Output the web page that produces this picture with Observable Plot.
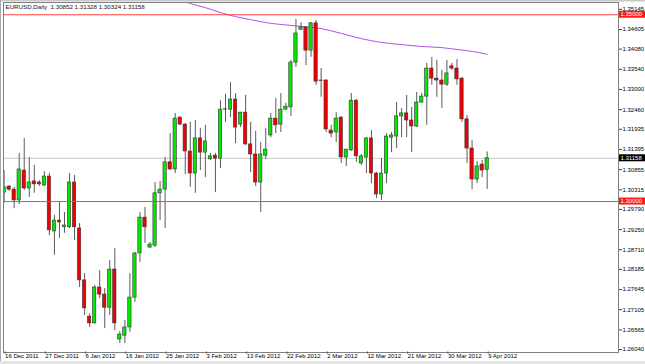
<!DOCTYPE html>
<html><head><meta charset="utf-8">
<script src="https://cdn.jsdelivr.net/npm/d3@7"></script>
<script src="https://cdn.jsdelivr.net/npm/@observablehq/plot@0.6"></script>
<style>
html,body{margin:0;padding:0;background:#fff;}
#chart svg{display:block;}
</style></head><body><div id="chart"></div>
<script>
const symbolTitle = "EURUSD,Daily  1.30852 1.31328 1.30324 1.31158";

const openP = [
1.3024,1.3040,1.3032,1.3003,1.3083,1.3035,1.3054,1.3051,1.3043,1.3067,
1.2920,1.2949,1.2931,1.2931,1.3051,1.2928,1.2789,1.2692,1.2674,1.2770,
1.2751,1.2716,1.2818,1.2631,1.2641,1.2663,1.2743,1.2861,1.2957,1.2877,
1.2882,1.3022,1.3032,1.3105,1.3086,1.3225,1.3206,1.3134,1.3075,1.3169,
1.3131,1.3113,1.3123,1.3115,1.3246,1.3246,1.3273,1.3206,1.3238,1.3153,
1.3126,1.3051,1.3123,1.3177,1.3222,1.3206,1.3246,1.3252,1.3372,1.3460,
1.3466,1.3404,1.3477,1.3324,1.3324,1.3190,1.3185,1.3225,1.3118,1.3137,
1.3270,1.3102,1.3118,1.3169,1.3075,1.3019,1.3075,1.3171,1.3174,1.3228,
1.3236,1.3217,1.3201,1.3265,1.3281,1.3356,1.3329,1.3324,1.3313,1.3362,
1.3356,1.3329,1.3220,1.3142,1.3059,1.3099,1.30852];

const highP = [
1.3083,1.3043,1.3038,1.3129,1.3169,1.3118,1.3097,1.3056,1.3080,1.3075,
1.2963,1.2997,1.2971,1.3075,1.3070,1.2941,1.2807,1.2700,1.2775,1.2815,
1.2767,1.2842,1.2874,1.2652,1.2682,1.2807,1.2864,1.2971,1.2984,1.2890,
1.3051,1.3054,1.3118,1.3182,1.3236,1.3226,1.3209,1.3212,1.3217,1.3196,
1.3204,1.3129,1.3129,1.3270,1.3287,1.3319,1.3289,1.3239,1.3284,1.3212,
1.3188,1.3158,1.3196,1.3236,1.3276,1.3289,1.3263,1.3378,1.3487,1.3479,
1.3468,1.3479,1.3485,1.3356,1.3326,1.3204,1.3238,1.3226,1.3140,1.3289,
1.3273,1.3126,1.3171,1.3190,1.3078,1.3115,1.3182,1.3185,1.3265,1.3249,
1.3284,1.3252,1.3292,1.3289,1.3370,1.3386,1.3378,1.3351,1.3378,1.3370,
1.3380,1.3332,1.3230,1.3163,1.3107,1.3110,1.31328];

const lowP = [
1.2995,1.3027,1.2981,1.2992,1.3030,1.3011,1.3022,1.3040,1.3040,1.2909,
1.2856,1.2901,1.2915,1.2928,1.2896,1.2770,1.2695,1.2663,1.2672,1.2740,
1.2660,1.2695,1.2655,1.2620,1.2620,1.2649,1.2730,1.2837,1.2888,1.2874,
1.2877,1.2949,1.2928,1.3083,1.3075,1.3204,1.3072,1.3038,1.3022,1.3083,
1.3064,1.3110,1.3024,1.3088,1.3212,1.3225,1.3155,1.3198,1.3150,1.3078,
1.3040,1.2971,1.3113,1.3171,1.3182,1.3185,1.3244,1.3228,1.3359,1.3458,
1.3364,1.3386,1.3311,1.3279,1.3185,1.3171,1.3158,1.3102,1.3094,1.3134,
1.3105,1.3097,1.3075,1.3048,1.3008,1.3003,1.3048,1.3131,1.3142,1.3171,
1.3171,1.3131,1.3198,1.3263,1.3204,1.3311,1.3279,1.3249,1.3308,1.3351,
1.3311,1.3212,1.3102,1.3032,1.3048,1.3064,1.30324];

const closeP = [
1.3038,1.3032,1.3003,1.3086,1.3035,1.3051,1.3046,1.3046,1.3067,1.2923,
1.2949,1.2944,1.2936,1.3051,1.2931,1.2789,1.2714,1.2674,1.2770,1.2751,
1.2716,1.2818,1.2674,1.2644,1.2663,1.2743,1.2861,1.2957,1.2931,1.2885,
1.3022,1.3032,1.3105,1.3086,1.3222,1.3206,1.3134,1.3075,1.3169,1.3131,
1.3161,1.3121,1.3115,1.3246,1.3247,1.3273,1.3198,1.3238,1.3153,1.3126,
1.3051,1.3126,1.3139,1.3222,1.3204,1.3246,1.3254,1.3372,1.3450,1.3466,
1.3404,1.3477,1.3321,1.3323,1.3193,1.3182,1.3222,1.3118,1.3139,1.3270,
1.3121,1.3121,1.3169,1.3075,1.3019,1.3075,1.3174,1.3177,1.3228,1.3236,
1.3217,1.3201,1.3265,1.3281,1.3356,1.3329,1.3324,1.3313,1.3343,1.3356,
1.3327,1.3220,1.3142,1.3059,1.3094,1.3083,1.31158];

const dateTickBars = [0,8,16,24,32,40,48,56,64,72,80,88,96];
const dateTickLabels = ["16 Dec 2011","27 Dec 2011","6 Jan 2012","16 Jan 2012","25 Jan 2012","3 Feb 2012","13 Feb 2012","22 Feb 2012","2 Mar 2012","12 Mar 2012","21 Mar 2012","30 Mar 2012","9 Apr 2012"];

const priceTicks = [1.35145,1.34605,1.34080,1.33540,1.33000,1.32460,1.31935,1.31395,1.30855,1.30315,1.29790,1.29250,1.28710,1.28185,1.27645,1.27105,1.26565,1.26040];

const redLevels = [1.35000, 1.30000];
const bidPrice = 1.31158;

const maBars   = [35,37,40,43,46,49,52,55,59,63,67,71,75,79,83,87,90,93,96];
const maValues = [1.3540,1.3530,1.3519,1.3506,1.3495,1.3487,1.3479,1.3474,1.3469,1.3463,1.3450,1.3436,1.3426,1.3420,1.3415,1.3412,1.3407,1.3402,1.3394];

const bars = openP.map((o,i)=>({i, open:o, high:highP[i], low:lowP[i], close:closeP[i]}));
const ma = maBars.map((b,k)=>({i:b, v:maValues[k]}));

const W = 645, H = 364, MR = 27;
const chart = Plot.plot({
  width: W, height: H, marginTop: 2, marginLeft: 3, marginRight: MR, marginBottom: 12,
  style: {fontFamily: "'Liberation Sans', Arial, sans-serif", fontSize: "6px", background: "#fff", color: "#000", overflow: "visible"},
  x: {type: "linear", domain: [-0.12, 122.1]},
  y: {type: "linear", domain: [1.2596, 1.35328]},
  marks: [
    Plot.ruleY([bidPrice], {stroke: "#c8c8c8", strokeWidth: 1}),
    Plot.line(ma, {x: "i", y: "v", stroke: "#b44fe8", strokeWidth: 1, clip: true, curve: "monotone-x"}),
    Plot.ruleX(bars, {x: "i", y1: "low", y2: "high", stroke: "#5a5a5a", strokeWidth: 1, clip: true}),
    Plot.rect(bars, {x1: d => d.i - 0.33, x2: d => d.i + 0.33, y1: "open", y2: "close",
      fill: d => d.close >= d.open ? "#00ea00" : "#f00000", stroke: "#333", strokeWidth: 0.6, clip: true}),
    Plot.ruleY(redLevels, {stroke: "#ff4040", strokeWidth: 1, strokeOpacity: 1}),
    Plot.frame({stroke: "#808080"}),
    Plot.axisY({anchor: "right", ticks: priceTicks, tickFormat: d => d.toFixed(5), tickSize: 3, tickPadding: 1, fontSize: 6, label: null, stroke: "#444"}),
    Plot.axisX({anchor: "bottom", ticks: dateTickBars, tickFormat: d => dateTickLabels[dateTickBars.indexOf(d)], tickSize: 2, tickPadding: 0, textAnchor: "start", dx: 1, dy: -0.5, fontSize: 6, label: null, stroke: "#444"}),
    Plot.text([symbolTitle], {frameAnchor: "top-left", text: d => d, dx: 2, dy: 2.5, lineAnchor: "top", textAnchor: "start", fontSize: 6.2, fill: "#111"})
  ]
});

const svg = d3.select(chart);
const ys = chart.scale("y");
const boxes = [{v: redLevels[0], fill: "#ff1a1a"}, {v: redLevels[1], fill: "#ff1a1a"}, {v: bidPrice, fill: "#000"}];
boxes.forEach(b => {
  const y = ys.apply(b.v);
  svg.append("rect").attr("x", W - MR + 1).attr("y", y - 3.5).attr("width", MR - 1).attr("height", 7).attr("fill", b.fill);
  svg.append("text").attr("x", W - MR + 2.5).attr("y", y).attr("dy", "0.35em").attr("fill", "#fff")
    .attr("text-anchor", "start").attr("font-size", 6).text(b.v.toFixed(5));
});
svg.append("rect").attr("x", 0).attr("y", H - 3).attr("width", W).attr("height", 3).attr("fill", "#e4e4e4");
svg.append("rect").attr("x", 0).attr("y", 0).attr("width", W).attr("height", 1.5).attr("fill", "#c8c8c8");
svg.append("line").attr("x1", 0.5).attr("x2", 0.5).attr("y1", 0).attr("y2", H - 3).attr("stroke", "#a8a8a8");

document.getElementById("chart").appendChild(chart);
</script></body></html>
